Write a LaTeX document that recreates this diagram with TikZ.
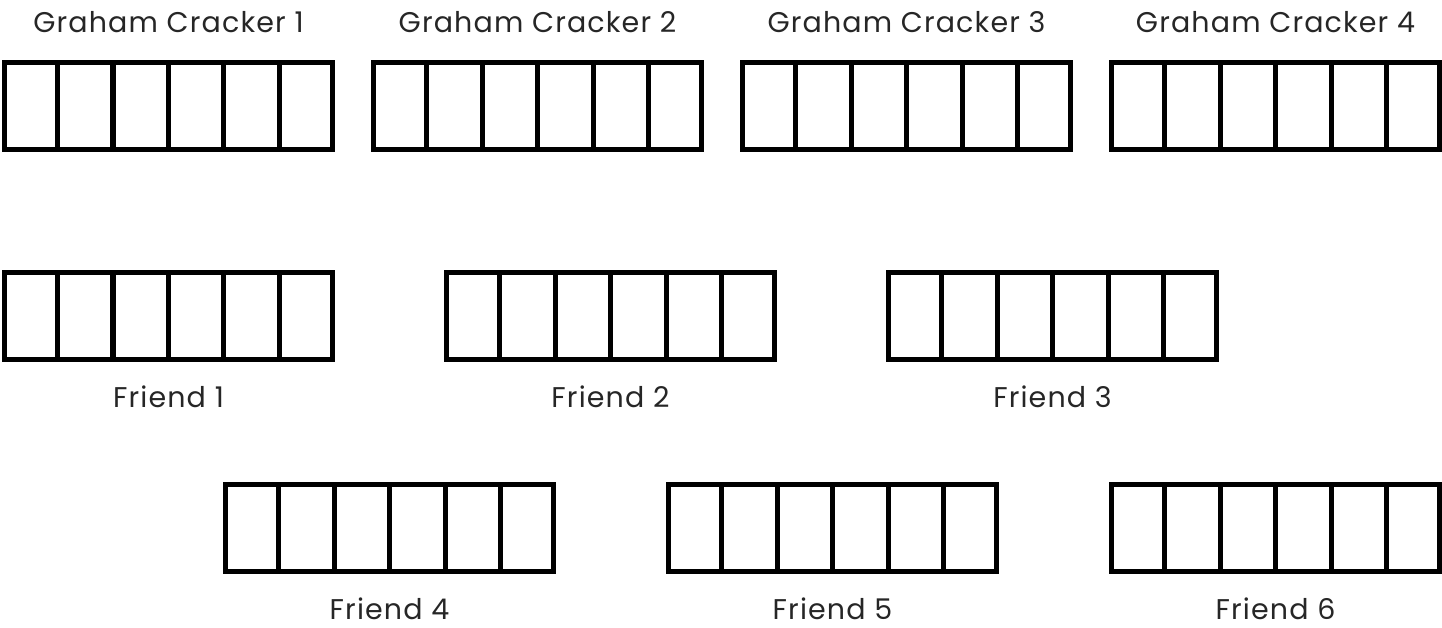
\documentclass[tikz,border=0pt]{standalone}
\usepackage{fontspec}
\setmainfont{Poppins}[LetterSpace=4]
\usetikzlibrary{positioning, calc}
\tikzset{
    cracker/.style={rectangle, draw=black, line width=5pt, minimum width=328pt, minimum height=87pt, inner sep=0pt},
    divider/.style={draw=black, line width=5pt},
    crackertext/.style={text=black!85, inner sep=0pt, font=\fontsize{28.5}{32}\selectfont}
}

\begin{document}
\begin{tikzpicture}
        \useasboundingbox (0,0) rectangle (1442pt,-627pt);

        % graham crackers
        \node (gc1) [cracker, anchor=north west] at (2pt,-60pt) {};
        \node (gc2) [cracker, right=36pt of gc1] {};
        \node (gc3) [cracker, right=36pt of gc2] {};
        \node (gc4) [cracker, right=36pt of gc3] {};

        % friends
        \node (f1) [cracker, below=118pt of gc1] {};
        \node (f2) [cracker, right=109pt of f1] {};
        \node (f3) [cracker, right=109pt of f2] {};
        \node (f4) [cracker, anchor=north west] at (223pt,-482pt) {};
        \node (f5) [cracker, right=110pt of f4] {};
        \node (f6) [cracker, right=110pt of f5] {};

        \foreach \n in {gc1,gc2,gc3,gc4,f1,f2,f3,f4,f5,f6}
            \foreach \k in {1,...,5}
                \draw [divider] ($(\n.north west)!\k/6!(\n.north east)$) -- ($(\n.south west)!\k/6!(\n.south east)$);

        \node (tgc1) [crackertext, above=28pt of gc1.north, anchor=base] {Graham Cracker 1};
        \node (tgc2) [crackertext, above=28pt of gc2.north, anchor=base] {Graham Cracker 2};
        \node (tgc3) [crackertext, above=28pt of gc3.north, anchor=base] {Graham Cracker 3};
        \node (tgc4) [crackertext, above=28pt of gc4.north, anchor=base] {Graham Cracker 4};

        \node (tf1) [crackertext, below=45pt of f1.south, anchor=base] {Friend 1};
        \node (tf2) [crackertext, below=45pt of f2.south, anchor=base] {Friend 2};
        \node (tf3) [crackertext, below=45pt of f3.south, anchor=base] {Friend 3};
        \node (tf4) [crackertext, below=45pt of f4.south, anchor=base] {Friend 4};
        \node (tf5) [crackertext, below=45pt of f5.south, anchor=base] {Friend 5};
        \node (tf6) [crackertext, below=45pt of f6.south, anchor=base] {Friend 6};
    \end{tikzpicture}
\end{document}
